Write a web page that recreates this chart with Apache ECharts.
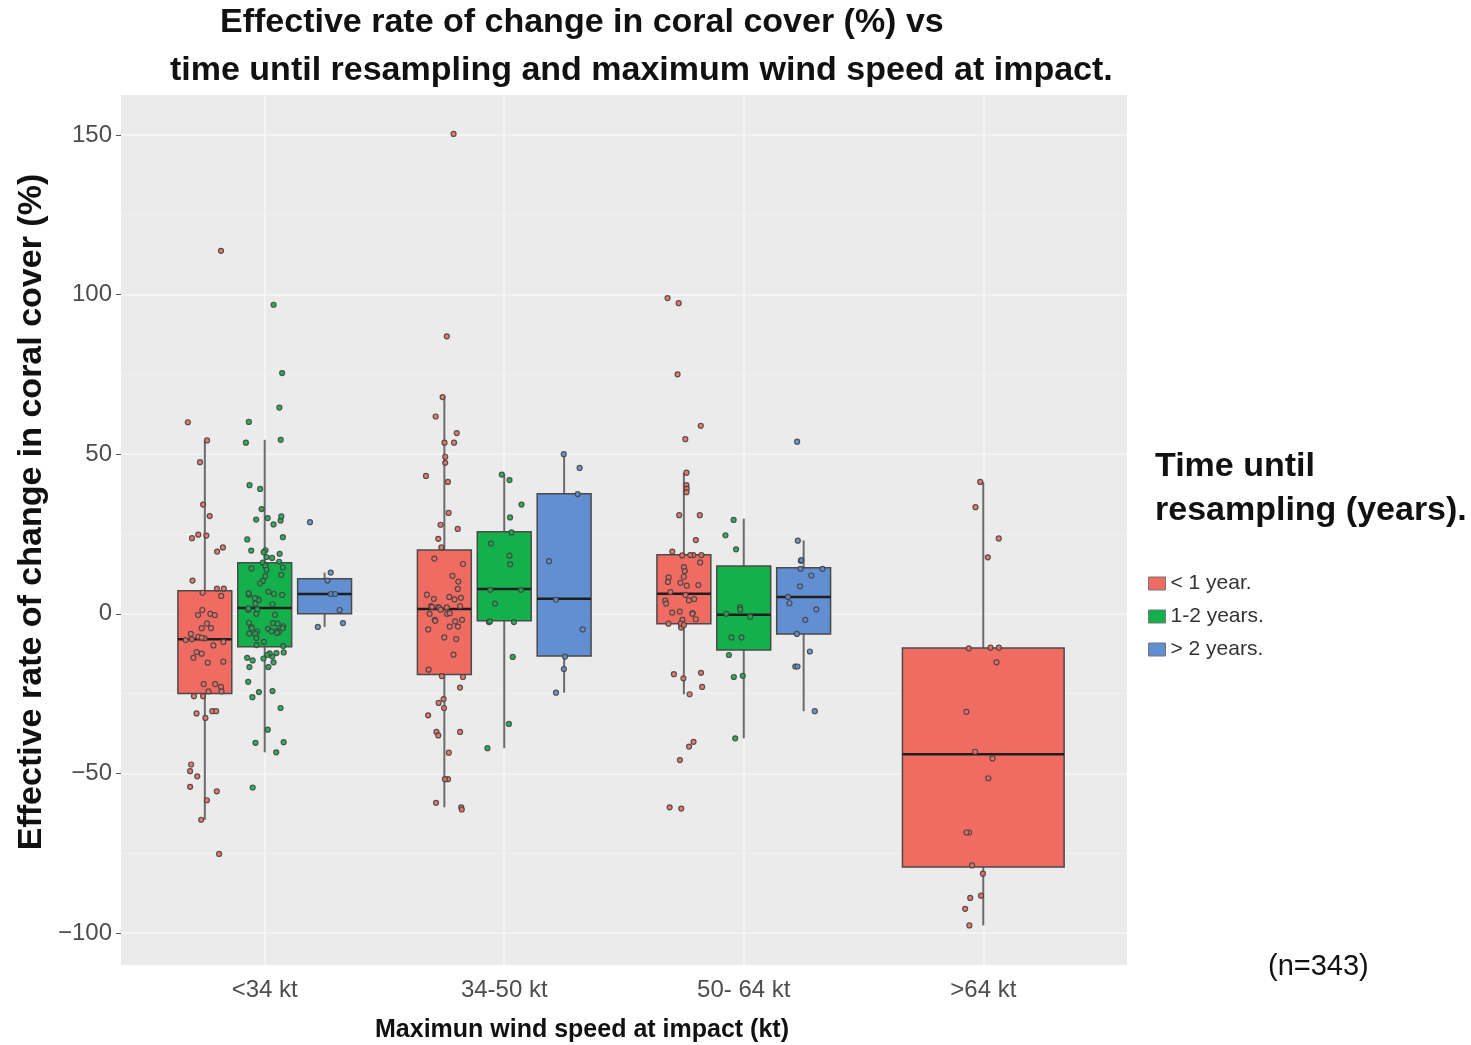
<!DOCTYPE html>
<html>
<head>
<meta charset="utf-8">
<script src="https://cdn.jsdelivr.net/npm/echarts@6/dist/echarts.min.js"></script>
<style>
  html, body { margin: 0; padding: 0; background: #fff; }
  #container { width: 1471px; height: 1045px; }
</style>
</head>
<body>
<div id="container"></div>
<script>
var categories = ['<34 kt', '34-50 kt', '50- 64 kt', '>64 kt'];
var groupNames = ['< 1 year.', '1-2 years.', '> 2 years.'];
var groupColors = ['#F06C62', '#14B04B', '#628ED2'];

var yTicks = [-100, -50, 0, 50, 100, 150];
var yMinor = [-75, -25, 25, 75, 125];

// box stats per wind category: [lower whisker, Q1, median, Q3, upper whisker]
var boxLt1 = [[-64.5, -25, -8, 7.2, 54.5], [-60.6, -19, 1.5, 20, 67.9], [-25.2, -3.1, 6.3, 18.5, 44.2], [-97.6, -79.3, -44, -10.7, 41.3]];
var box12 = [[-43.4, -10.3, 1.8, 16, 54.5], [-42.1, -2.2, 7.8, 25.7, 43.6], [-39, -11.3, -0.3, 15, 29.8]];
var boxGt2 = [[-4.1, 0, 6.2, 11, 12.9], [-24.7, -13.2, 4.7, 37.6, 50], [-30.5, -6.3, 5.3, 14.4, 23]];

// individual sites (jittered points) per wind category
var ptsLt1 = [
  [113.7, 60, 54.3, 47.5, 34.2, 30.6, 23.7, 24.8, 24.5, 20.8, 19.5, 10.4, 7.9, 7.9, 6.6, 5.6, 1.2, 0, -0.4, -0.4, -3, -4.5, -4.5, -6.3, -7.2, -7.7, -8.2, -8, -7.5, -8.8, -9.9, -12, -12.5, -13.8, -15.3, -15, -22.9, -22, -22, -24.3, -24.3, -25.8, -25.8, -30.5, -30.5, -31.2, -32.6, -47.2, -49.3, -50.9, -54.2, -55.6, -58.4, -64.5, -75.2],
  [150.3, 86.9, 67.9, 61.8, 56.6, 53.6, 53.6, 49.2, 47.3, 43.2, 41.3, 31.6, 27.9, 26.6, 23.5, 20.8, 17.3, 15.6, 11.9, 10.1, 7.8, 6, 5.3, 5, 4.7, 4.5, 2.4, 2.4, 2.2, 2.1, 2, 1.9, 1.3, 0, 0, 0.2, -1.9, -1.9, -2.2, -2.4, -4, -4, -4.9, -7.4, -7.9, -12.8, -17.5, -19.5, -19.8, -23.1, -26.7, -27.9, -29.5, -31.8, -37, -37, -38.1, -43.5, -51.8, -51.8, -59.2, -60.6, -61.3],
  [98.9, 97.3, 75, 58.9, 54.7, 44.2, 40.3, 39.2, 38.1, 30.9, 30.9, 23.1, 19.5, 18.4, 18.4, 18.4, 18.3, 16.1, 14.6, 13.4, 11.6, 11.4, 10, 9.7, 9, 8.8, 6.8, 5.9, 4.6, 4.1, 4.2, 3.2, 0.7, 0.4, 0.2, 0, -1.7, -1.9, -3.7, -4.3, -3, -3.1, -3.5, -20.2, -18.5, -18.9, -22.9, -25.2, -40.1, -41.6, -45.8, -61, -60.6],
  [41.3, 33.4, 23.6, 17.7, -10.6, -10.6, -10.8, -15.2, -30.7, -43.2, -45.3, -51.5, -68.5, -68.5, -78.8, -81.4, -88.3, -89, -92.4, -97.6]
];
var pts12 = [
  [96.8, 75.4, 64.6, 60.1, 54.5, 53.6, 40.3, 39.1, 32.8, 29.5, 29.2, 30.5, 30, 28, 23.3, 24, 19.8, 19.9, 19.3, 18.8, 17.8, 17.5, 16, 16.3, 15, 14.5, 14.2, 13.8, 11.8, 12.2, 10.3, 9.5, 5.9, 6.9, 6.2, 6, 6.4, 4.6, 4.3, 4.9, 3, 3.2, 1.4, 1.2, 1.7, 0, -0.3, -2.9, -3.1, -2.8, -3.9, -4.2, -4.5, -4.7, -5.6, -4.5, -5.5, -5.3, -5.7, -6, -6.2, -6.3, -7.6, -8.8, -9.8, -10.1, -12.3, -12.1, -13.4, -12.4, -14, -13.8, -12.9, -14.6, -15.2, -16.7, -16.7, -21.3, -24.2, -24.5, -26.1, -29.5, -36.3, -40.2, -40.4, -43.4, -54.4],
  [43.6, 41.9, 34.2, 30.2, 25.5, 22, 18.2, 15.5, 7.5, 7.5, 3.2, -2.6, -2.6, -2.4, -13.5, -34.5, -42.1],
  [29.4, 24.6, 20.2, 2, 1.3, 0, -0.9, -7.4, -7.4, -12.9, -19.4, -19.8, -39]
];
var ptsGt2 = [
  [28.7, 12.9, 10.4, 6.2, 6.2, 1.2, -4.1, -2.9],
  [50, 45.7, 37.5, 16.5, 4.4, -4.9, -13.4, -17.3, -24.7],
  [53.9, 22.9, 16.6, 16.8, 14.1, 14.1, 12, 8.6, 5.3, 3.3, 1.4, -1.9, -6.3, -11.8, -16.5, -16.5, -30.5]
];

var boxGroups = [boxLt1, box12, boxGt2];
var ptGroups = [ptsLt1, pts12, ptsGt2];

var FONT = '"Liberation Sans", Arial, sans-serif';

// dodge: boxes share 0.75 of a category, each 90% of its slot
function slotInfo(g, cat) {
    var present = [];
    for (var k = 0; k < boxGroups.length; k++) {
        if (boxGroups[k][cat]) present.push(k);
    }
    var n = present.length;
    var slot = 0.75 / n;
    var pos = present.indexOf(g);
    return { center: cat + 1 + (pos - (n - 1) / 2) * slot, half: slot * 0.9 / 2 };
}

// fixed horizontal jitter, spread -0.5..0.5
function jitter(g, c, i) {
    var s = Math.sin((i + 1) * 12.9898 + c * 78.233 + g * 37.719) * 43758.5453;
    return s - Math.floor(s) - 0.5;
}

function boxRenderer(g) {
    return function (params, api) {
        var cat = api.value(0);
        var s = slotInfo(g, cat);
        var lo = api.coord([s.center, api.value(1)]);
        var q1 = api.coord([s.center, api.value(2)]);
        var md = api.coord([s.center, api.value(3)]);
        var q3 = api.coord([s.center, api.value(4)]);
        var hi = api.coord([s.center, api.value(5)]);
        var w = api.size([s.half * 2, 0])[0];
        var x0 = lo[0] - w / 2;
        var whisker = { stroke: '#6b6b6b', lineWidth: 2 };
        return {
            type: 'group',
            children: [
                { type: 'line', shape: { x1: lo[0], y1: lo[1], x2: q1[0], y2: q1[1] }, style: whisker },
                { type: 'line', shape: { x1: q3[0], y1: q3[1], x2: hi[0], y2: hi[1] }, style: whisker },
                { type: 'rect', shape: { x: x0, y: q3[1], width: w, height: q1[1] - q3[1] },
                  style: { fill: groupColors[g], stroke: '#4a4a4a', lineWidth: 1.5 } },
                { type: 'line', shape: { x1: x0, y1: md[1], x2: x0 + w, y2: md[1] },
                  style: { stroke: '#1e1e1e', lineWidth: 2.5 } }
            ]
        };
    };
}

var series = [];

// panel grid lines
var gridLines = [];
yTicks.forEach(function (v) {
    gridLines.push({ yAxis: v, lineStyle: { color: '#F7F7F7', width: 1.5, type: 'solid' } });
});
yMinor.forEach(function (v) {
    gridLines.push({ yAxis: v, lineStyle: { color: '#F1F1F1', width: 1, type: 'solid' } });
});
[1, 2, 3, 4].forEach(function (v) {
    gridLines.push({ xAxis: v, lineStyle: { color: '#F7F7F7', width: 1.5, type: 'solid' } });
});
series.push({
    type: 'line', data: [], silent: true, z: 1,
    markLine: { symbol: 'none', silent: true, z: 1, label: { show: false }, data: gridLines }
});

for (var g = 0; g < 3; g++) {
    var boxData = boxGroups[g].map(function (b, c) { return [c].concat(b); });
    series.push({
        name: groupNames[g],
        type: 'custom',
        z: 3,
        itemStyle: { color: groupColors[g] },
        renderItem: boxRenderer(g),
        encode: { x: 0, y: [1, 2, 3, 4, 5] },
        data: boxData
    });

    var scat = [];
    ptGroups[g].forEach(function (vals, c) {
        var s = slotInfo(g, c);
        vals.forEach(function (v, i) {
            scat.push([s.center + jitter(g, c, i) * 0.16, v]);
        });
    });
    series.push({
        name: groupNames[g],
        type: 'scatter',
        z: 4,
        symbolSize: 5,
        itemStyle: { color: groupColors[g], borderColor: '#444', borderWidth: 1.2, opacity: 0.9 },
        data: scat
    });
}

var dom = document.getElementById('container');
var myChart = echarts.init(dom);
var option = {
    animation: false,
    backgroundColor: '#ffffff',
    grid: {
        left: 121, top: 95, right: 344, bottom: 80,
        show: true, backgroundColor: '#EBEBEB', borderWidth: 0
    },
    legend: {
        orient: 'vertical',
        left: 1143, top: 568,
        itemWidth: 17, itemHeight: 13, itemGap: 12,
        icon: 'rect',
        data: groupNames,
        itemStyle: { borderColor: '#777', borderWidth: 1 },
        textStyle: { fontFamily: FONT, fontSize: 21, color: '#333' }
    },
    xAxis: {
        type: 'value', min: 0.4, max: 4.6,
        axisLine: { show: false },
        splitLine: { show: false },
        axisTick: { show: true, customValues: [1, 2, 3, 4], length: 5, lineStyle: { color: '#555' } },
        axisLabel: {
            customValues: [1, 2, 3, 4], margin: 13,
            fontFamily: FONT, fontSize: 24, color: '#4d4d4d',
            formatter: function (v) { return categories[Math.round(v) - 1]; }
        }
    },
    yAxis: {
        type: 'value', min: -110, max: 162.5,
        axisLine: { show: false },
        splitLine: { show: false },
        axisTick: { show: true, customValues: yTicks, length: 5, lineStyle: { color: '#555' } },
        axisLabel: {
            customValues: yTicks, margin: 9,
            fontFamily: FONT, fontSize: 24, color: '#4d4d4d',
            formatter: function (v) { return String(v).replace('-', '\u2212'); }
        }
    },
    graphic: [
        { type: 'text', left: 220, top: 6,
          style: { text: 'Effective rate of change in coral cover (%) vs', font: 'bold 34px ' + FONT, fill: '#111' } },
        { type: 'text', left: 170, top: 54,
          style: { text: 'time until resampling and maximum wind speed at impact.', font: 'bold 34px ' + FONT, fill: '#111' } },
        { type: 'text', x: 32, y: 512, rotation: Math.PI / 2,
          style: { text: 'Effective rate of change in coral cover (%)', font: 'bold 34px ' + FONT, fill: '#111',
                   align: 'center', verticalAlign: 'middle' } },
        { type: 'text', x: 582, y: 1030,
          style: { text: 'Maximun wind speed at impact (kt)', font: 'bold 25px ' + FONT, fill: '#111',
                   align: 'center', verticalAlign: 'middle' } },
        { type: 'text', left: 1155, top: 450,
          style: { text: 'Time until', font: 'bold 34px ' + FONT, fill: '#111' } },
        { type: 'text', left: 1155, top: 494,
          style: { text: 'resampling (years).', font: 'bold 34px ' + FONT, fill: '#111' } },
        { type: 'text', left: 1268, top: 952,
          style: { text: '(n=343)', font: '29px ' + FONT, fill: '#111' } }
    ],
    series: series
};
myChart.setOption(option);
</script>
</body>
</html>
